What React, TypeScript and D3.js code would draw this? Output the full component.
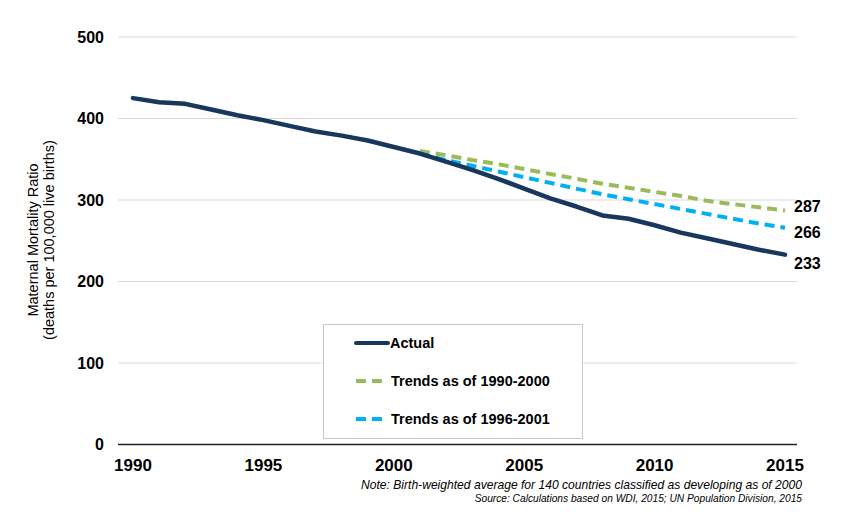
import React, { useEffect, useRef } from 'react';
import * as d3 from 'd3';

const years = d3.range(1990, 2016);
const actual = [425, 420, 418, 411, 404, 398, 391, 384, 379, 373, 365, 357, 347, 337, 326, 314, 302, 292, 281, 277, 269, 260, 253, 246, 239, 233];

const trendYears = d3.range(2001, 2016);
const trend9000 = [360, 355, 349, 344, 338, 332, 326, 320, 315, 310, 305, 299, 295, 291, 287];
const trend9601 = [357, 349, 342, 335, 328, 321, 314, 307, 301, 295, 289, 283, 277, 271, 266];

const yTicks = [0, 100, 200, 300, 400, 500];
const xTicks = [1990, 1995, 2000, 2005, 2010, 2015];

const endLabels = ['287', '266', '233'];

const NAVY = '#17375e';
const GREEN = '#9bbb59';
const BLUE = '#00b0f0';

const App = () => {
  const svgRef = useRef<SVGSVGElement>(null);

  useEffect(() => {
    if (!svgRef.current) return;
    const width = 864;
    const height = 514;
    const svg = d3.select(svgRef.current).attr('width', width).attr('height', height);
    svg.selectAll('*').remove();

    const x = d3.scaleLinear().domain([1990, 2015]).range([133, 785]);
    const y = d3.scaleLinear().domain([0, 500]).range([444.5, 37]);
    const plotLeft = 118;
    const plotRight = 797;

    // gridlines
    svg.append('g')
      .selectAll('line')
      .data(yTicks.filter(d => d > 0))
      .enter()
      .append('line')
      .attr('x1', plotLeft)
      .attr('x2', plotRight)
      .attr('y1', d => y(d))
      .attr('y2', d => y(d))
      .attr('stroke', '#d9d9d9')
      .attr('stroke-width', 1);

    // axis line
    svg.append('line')
      .attr('x1', plotLeft)
      .attr('x2', plotRight)
      .attr('y1', y(0))
      .attr('y2', y(0))
      .attr('stroke', '#222')
      .attr('stroke-width', 1.5);

    const font = 'Arial, "Liberation Sans", sans-serif';

    // y tick labels
    svg.append('g')
      .selectAll('text')
      .data(yTicks)
      .enter()
      .append('text')
      .attr('x', 104)
      .attr('y', d => y(d))
      .attr('dy', '0.35em')
      .attr('text-anchor', 'end')
      .attr('font-family', font)
      .attr('font-size', '16px')
      .attr('font-weight', 'bold')
      .attr('fill', '#000')
      .text(d => d);

    // x tick labels
    svg.append('g')
      .selectAll('text')
      .data(xTicks)
      .enter()
      .append('text')
      .attr('x', d => x(d))
      .attr('y', 465)
      .attr('dy', '0.35em')
      .attr('text-anchor', 'middle')
      .attr('font-family', font)
      .attr('font-size', '17px')
      .attr('font-weight', 'bold')
      .attr('fill', '#000')
      .text(d => d);

    // y title
    const yTitle = svg.append('text')
      .attr('transform', 'translate(40,240) rotate(-90)')
      .attr('text-anchor', 'middle')
      .attr('font-family', font)
      .attr('font-size', '14.5px')
      .attr('fill', '#000');
    yTitle.append('tspan').attr('x', 0).attr('y', -2).text('Maternal Mortality Ratio');
    yTitle.append('tspan').attr('x', 0).attr('y', 14).text('(deaths per 100,000 live births)');

    const line = d3.line<[number, number]>()
      .x(d => x(d[0]))
      .y(d => y(d[1]));

    svg.append('path')
      .datum(trendYears.map((yr, i) => [yr, trend9000[i]] as [number, number]))
      .attr('d', line)
      .attr('fill', 'none')
      .attr('stroke', GREEN)
      .attr('stroke-width', 4)
      .attr('stroke-dasharray', '10,6');

    svg.append('path')
      .datum(trendYears.map((yr, i) => [yr, trend9601[i]] as [number, number]))
      .attr('d', line)
      .attr('fill', 'none')
      .attr('stroke', BLUE)
      .attr('stroke-width', 4)
      .attr('stroke-dasharray', '10,6');

    svg.append('path')
      .datum(years.map((yr, i) => [yr, actual[i]] as [number, number]))
      .attr('d', line)
      .attr('fill', 'none')
      .attr('stroke', NAVY)
      .attr('stroke-width', 4.5)
      .attr('stroke-linecap', 'round')
      .attr('stroke-linejoin', 'round');

    // end labels
    const endValues = [trend9000[trend9000.length - 1], trend9601[trend9601.length - 1], actual[actual.length - 1]];
    const endOffsets = [-4.5, 5, 8.5];
    svg.append('g')
      .selectAll('text')
      .data(endLabels)
      .enter()
      .append('text')
      .attr('x', 794)
      .attr('y', (d, i) => y(endValues[i]) + endOffsets[i])
      .attr('dy', '0.35em')
      .attr('font-family', font)
      .attr('font-size', '16px')
      .attr('font-weight', 'bold')
      .attr('fill', '#000')
      .text(d => d);

    // legend
    const legend = svg.append('g');
    legend.append('rect')
      .attr('x', 323.5)
      .attr('y', 324.5)
      .attr('width', 259)
      .attr('height', 114)
      .attr('fill', '#fff')
      .attr('stroke', '#c8c8c8')
      .attr('stroke-width', 1);
    const items = [
      { label: 'Actual', color: NAVY, dash: null, y: 343, tx: 390 },
      { label: 'Trends as of 1990-2000', color: GREEN, dash: '10,6', y: 381, tx: 391 },
      { label: 'Trends as of 1996-2001', color: BLUE, dash: '10,6', y: 419, tx: 391 },
    ];
    items.forEach(it => {
      legend.append('line')
        .attr('x1', 356)
        .attr('x2', it.dash ? 384 : 388)
        .attr('y1', it.y)
        .attr('y2', it.y)
        .attr('stroke', it.color)
        .attr('stroke-width', 4)
        .attr('stroke-linecap', it.dash ? 'butt' : 'round')
        .attr('stroke-dasharray', it.dash);
      legend.append('text')
        .attr('x', it.tx)
        .attr('y', it.y)
        .attr('dy', '0.35em')
        .attr('font-family', font)
        .attr('font-size', '14.5px')
        .attr('font-weight', 'bold')
        .attr('fill', '#000')
        .text(it.label);
    });

    // notes
    svg.append('text')
      .attr('x', 802)
      .attr('y', 485)
      .attr('dy', '0.35em')
      .attr('text-anchor', 'end')
      .attr('font-family', font)
      .attr('font-size', '12.1px')
      .attr('font-style', 'italic')
      .attr('fill', '#000')
      .text('Note: Birth-weighted average for 140 countries classified as developing as of 2000');
    svg.append('text')
      .attr('x', 802)
      .attr('y', 498)
      .attr('dy', '0.35em')
      .attr('text-anchor', 'end')
      .attr('font-family', font)
      .attr('font-size', '10.2px')
      .attr('font-style', 'italic')
      .attr('fill', '#000')
      .text('Source: Calculations based on WDI, 2015; UN Population Division, 2015');
  }, []);

  return (
    <svg
      ref={svgRef}
      style={{ position: 'absolute', left: 0, top: 0, display: 'block', background: '#fff' }}
    />
  );
};

export default App;
